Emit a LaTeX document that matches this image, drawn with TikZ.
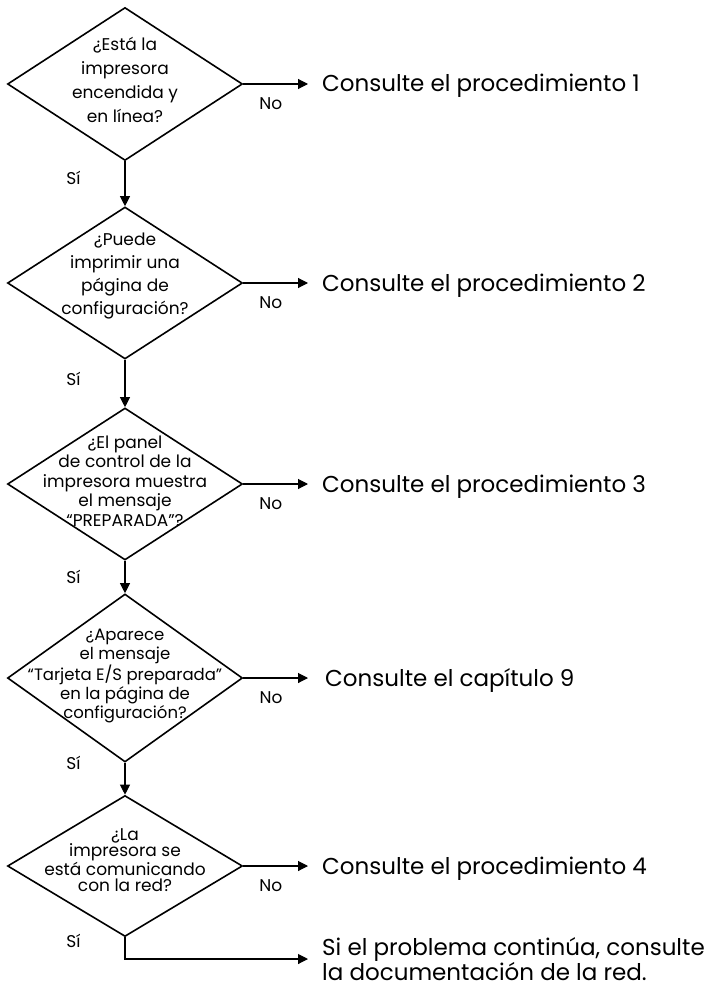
\documentclass[tikz,border=0pt]{standalone}
\usepackage{fontspec}
\setmainfont{Poppins}
\usetikzlibrary{shapes.geometric,arrows.meta}

\tikzset{
  decision/.style={diamond, draw, line width=1.6pt, inner sep=0pt, minimum width=235pt},
  question/.style={align=center, inner sep=0pt},
  answer/.style={anchor=west, inner sep=0pt, text height=16pt, text depth=0pt,
    font=\fontsize{23}{25}\selectfont},
  flow/.style={-{Triangle[length=10pt,width=10pt]}, line width=1.1pt},
  yeslabel/.style={left=44pt, inner sep=0pt, font=\fontsize{17}{17}\selectfont},
  nolabel/.style={below=13pt, inner sep=0pt, font=\fontsize{17}{17}\selectfont},
}

\begin{document}
\begin{tikzpicture}[x=1pt, y=-1pt]
  \useasboundingbox (0,0) rectangle (715,987);
  % decisions
  \node[decision, minimum height=153pt] (d1) at (125,84) {};
  \node[decision, minimum height=152pt] (d2) at (125,283) {};
  \node[decision, minimum height=152pt] (d3) at (125,484) {};
  \node[decision, minimum height=168pt] (d4) at (125,678) {};
  \node[decision, minimum height=141pt] (d5) at (125,866) {};
  % questions
  \node[question, font=\fontsize{17}{24}\selectfont] (q1) at (125,80)
    {¿Está la\\impresora\\encendida y\\en línea?};
  \node[question, font=\fontsize{17}{23}\selectfont] (q2) at (125,276)
    {¿Puede\\imprimir una\\página de\\configuración?};
  \node[question, font=\fontsize{17}{19.5}\selectfont] (q3) at (125,481)
    {¿El panel\\de control de la\\impresora muestra\\el mensaje\\“PREPARADA”?};
  \node[question, font=\fontsize{16.5}{19}\selectfont] (q4) at (125,676)
    {¿Aparece\\el mensaje\\“Tarjeta E/S preparada”\\en la página de\\configuración?};
  \node[question, font=\fontsize{17}{16}\selectfont] (q5) at (125,860)
    {¿La\\impresora se\\está comunicando\\con la red?};
  % answers
  \node[answer] (c1) at (322,84) {Consulte el procedimiento 1};
  \node[answer] (c2) at (322,283) {Consulte el procedimiento 2};
  \node[answer] (c3) at (322,484) {Consulte el procedimiento 3};
  \node[answer] (c4) at (325,678) {Consulte el capítulo 9};
  \node[answer] (c5) at (322,866) {Consulte el procedimiento 4};
  \node[answer, text height=, text depth=, align=left] (c6) at (322,959)
    {Si el problema continúa, consulte\\la documentación de la red.};
  % arrows
  \draw[flow, shorten >=14pt] (d1.east) -- node[nolabel, pos=0.35] {No} (c1.west);
  \draw[flow, shorten >=14pt] (d2.east) -- node[nolabel, pos=0.35] {No} (c2.west);
  \draw[flow, shorten >=14pt] (d3.east) -- node[nolabel, pos=0.35] {No} (c3.west);
  \draw[flow, shorten >=17pt] (d4.east) -- node[nolabel, pos=0.34] {No} (c4.west);
  \draw[flow, shorten >=14pt] (d5.east) -- node[nolabel, pos=0.35] {No} (c5.west);
  \draw[flow] (d1) -- node[yeslabel, pos=0.38] {Sí} (d2);
  \draw[flow] (d2) -- node[yeslabel, pos=0.4] {Sí} (d3);
  \draw[flow] (d3) -- node[yeslabel, pos=0.5] {Sí} (d4);
  \draw[flow] (d4) -- node[yeslabel, pos=0] {Sí} (d5);
  \draw[flow, shorten >=14pt] (d5.south) |- node[yeslabel, pos=0.08] {Sí} (c6.west);
\end{tikzpicture}
\end{document}
